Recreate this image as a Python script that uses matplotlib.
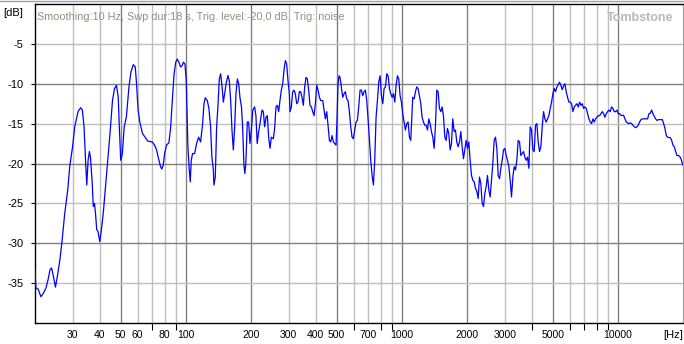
import matplotlib
matplotlib.use('Agg')
import matplotlib.pyplot as plt
from matplotlib.lines import Line2D

plt.rcParams['font.family'] = ['Liberation Sans', 'DejaVu Sans']

freq_bass = [20.1, 20.3, 20.8, 21.4, 22.0, 22.6, 23.1, 23.6, 24.0, 24.4, 25.0, 25.5,
             26.2, 26.8, 27.6, 28.5, 29.1, 30.0, 30.7, 31.8, 32.7, 33.3, 33.9, 34.5,
             34.9, 35.4, 35.9, 36.3, 37.0, 37.4, 37.9, 38.3, 38.8, 39.3, 40.1, 40.7,
             41.6, 42.5, 43.4, 44.7, 45.9, 46.9, 47.9, 48.8, 49.3, 50.1, 51.0, 52.0,
             53.2, 54.7, 55.9, 57.3, 58.5, 59.3, 60.3, 61.4, 63.2]
db_bass = [-33.3, -35.6, -35.75, -36.7, -36.25, -35.6, -34.6, -33.3, -33.1, -34.0, -35.5, -34.2,
           -32.1, -29.8, -26.25, -23.3, -20.4, -17.9, -15.4, -13.5, -13.0, -13.3, -15.4, -20.0,
           -22.7, -19.6, -18.5, -19.2, -22.5, -25.4, -25.0, -26.25, -28.3, -28.5, -29.8, -28.5,
           -26.25, -23.3, -20.4, -16.25, -12.1, -10.6, -10.2, -11.7, -15.0, -19.6, -18.75, -15.4,
           -14.2, -10.4, -8.5, -7.6, -7.9, -10.0, -13.3, -14.8, -16.25]

freq_lowmid = [66.9, 70.1, 71.9, 73.4, 74.7, 76.6, 77.6, 78.8, 80.0, 81.6, 83.7, 85.2,
               86.8, 88.3, 90.0, 91.5, 93.1, 94.8, 96.5, 97.6, 99.3, 100.7, 102.5, 104.0,
               105.1, 106.2, 107.7, 110.1, 112.4, 114.9, 117.3, 119.9, 121.6, 123.3, 126.0, 128.2,
               130.5, 132.3, 134.4, 135.2, 137.2, 139.2, 141.2, 143.2, 145.3, 147.5, 149.5, 151.6,
               153.9, 157.0, 159.2, 161.6, 163.9, 166.3, 168.7, 171.0, 173.6, 176.1, 178.4, 181.3,
               183.6, 186.1, 188.0, 189.9, 193.0, 195.8, 198.5, 201.5, 204.6, 208.6, 211.5, 214.4,
               217.8]
db_lowmid = [-17.2, -17.3, -17.7, -18.3, -19.2, -20.4, -20.7, -20.2, -18.75, -17.7, -17.4, -15.6,
             -12.1, -9.0, -7.3, -6.9, -7.3, -7.9, -7.7, -7.3, -7.5, -9.6, -17.9, -20.8,
             -22.3, -19.6, -18.75, -18.75, -17.5, -16.7, -17.3, -15.0, -12.5, -11.75, -12.1, -13.1,
             -15.4, -19.2, -20.8, -22.7, -21.7, -15.4, -12.7, -9.4, -8.75, -10.4, -12.3, -11.25,
             -10.0, -8.95, -9.6, -12.1, -15.8, -18.3, -15.4, -11.25, -9.4, -10.0, -11.7, -12.9,
             -15.4, -20.2, -21.25, -20.0, -14.8, -14.8, -17.5, -15.8, -13.3, -12.9, -14.0, -17.5,
             -16.0]

freq_mid = [220.8, 225.6, 228.9, 232.1, 235.5, 238.8, 242.3, 245.7, 249.3, 254.6, 258.2, 261.9,
            265.7, 269.5, 273.3, 277.3, 281.3, 285.3, 289.4, 293.5, 297.7, 302.0, 304.1, 308.5,
            312.9, 317.4, 321.9, 326.5, 331.1, 335.9, 340.7, 345.6, 350.5, 355.5, 360.6, 365.8,
            371.0, 376.3, 381.7, 387.3, 392.8, 398.5, 404.2, 410.0, 415.9, 421.7, 430.9, 437.0,
            443.3, 449.6, 456.0, 462.6, 469.2, 475.9, 482.7, 489.6, 496.6, 501.9, 507.2, 512.7,
            518.2, 525.6, 533.2, 540.8, 548.5, 556.4, 564.3, 572.4, 580.6, 588.8, 597.3, 605.8,
            614.5, 623.3, 632.2, 641.3, 650.5, 659.8, 669.3, 678.9, 688.7, 698.5, 708.6, 718.7,
            729.1, 739.5, 749.9, 760.6, 771.6, 782.7, 793.9, 805.3, 816.8, 828.5, 840.4, 852.4,
            864.7, 877.0, 889.6, 902.3, 915.3, 928.3, 941.6, 955.0, 968.5, 982.4, 996.5, 1010.6,
            1025.0, 1039.9, 1054.6, 1069.8, 1085.1, 1100.6]
db_mid = [-15.0, -13.3, -13.5, -15.4, -14.2, -14.0, -16.7, -18.1, -16.7, -16.9, -15.6, -12.9,
          -12.7, -13.5, -12.1, -10.8, -10.0, -8.3, -7.1, -7.5, -9.6, -11.25, -13.5, -12.9,
          -11.0, -10.8, -11.25, -12.5, -12.3, -11.0, -11.0, -11.7, -12.7, -10.4, -9.2, -9.4,
          -10.8, -12.7, -12.9, -13.5, -14.0, -12.5, -10.2, -10.8, -11.7, -12.1, -12.1, -13.3,
          -14.4, -13.5, -15.2, -17.1, -17.3, -16.5, -17.3, -17.5, -17.7, -14.2, -10.0, -9.0,
          -9.2, -10.4, -11.7, -11.25, -11.0, -11.9, -12.1, -13.5, -15.4, -16.7, -16.9, -15.8,
          -14.8, -14.6, -12.9, -10.8, -10.8, -11.5, -11.0, -10.8, -12.1, -14.4, -17.1, -19.6,
          -21.5, -22.7, -19.6, -14.2, -12.1, -9.8, -9.0, -11.5, -12.5, -10.6, -10.4, -8.75,
          -9.0, -10.6, -11.25, -11.7, -11.25, -12.3, -10.2, -9.0, -9.4, -11.5, -12.3, -13.75,
          -14.8, -15.8, -15.0, -14.8, -16.7, -17.1]

freq_high = [1124, 1141, 1157, 1173, 1190, 1207, 1225, 1242, 1260, 1278, 1296, 1315,
             1334, 1353, 1372, 1392, 1412, 1432, 1452, 1473, 1494, 1516, 1537, 1559,
             1582, 1604, 1627, 1650, 1674, 1698, 1722, 1747, 1772, 1797, 1823, 1849,
             1876, 1903, 1930, 1957, 1985, 2014, 2043, 2072, 2102, 2132, 2162, 2193,
             2225, 2256, 2289, 2321, 2355, 2388, 2423, 2457, 2492, 2528, 2564, 2601,
             2638, 2676, 2714, 2753, 2793, 2833, 2873, 2914, 2956, 2998, 3041, 3085,
             3129, 3174, 3219, 3265, 3312, 3359, 3407, 3456, 3506, 3556, 3607, 3658,
             3711, 3764, 3818, 3872, 3928, 3984, 4041, 4099, 4158, 4217, 4277, 4339,
             4401, 4464, 4528, 4593, 4658, 4725, 4793, 4861, 4931, 5002, 5073, 5146,
             5220, 5294, 5370, 5447, 5525, 5604, 5684, 5766, 5848, 5932, 6017, 6103,
             6191, 6279, 6369, 6461, 6553, 6647, 6742, 6839, 6937, 7036, 7137, 7239,
             7343, 7448, 7554, 7663, 7772, 7884, 7997, 8111, 8227,
             8462, 8584, 8707, 8831, 8958, 9086, 9216, 9348, 9481, 9617, 9754, 9894,
             10036, 10179, 10325, 10473, 10622, 10774, 10929, 11085, 11244, 11405, 11568, 11734,
             11902, 12072, 12245, 12420, 12598, 12778, 12961, 13147, 13335, 13526, 13719, 13916,
             14115, 14317, 14522, 14730, 14941, 15155, 15372, 15592, 15815, 16042, 16271, 16504,
             16741, 16980, 17223, 17470, 17720, 17974, 18231, 18492, 18757, 19025, 19298, 19574,
             19854, 20000]
db_high = [-11.7, -11.9, -11.0, -10.4, -10.6, -11.5, -12.5, -14.2, -14.8, -15.2, -15.2, -15.8,
           -14.4, -15.0, -16.0, -16.7, -18.1, -15.2, -10.8, -11.0, -13.1, -13.5, -12.9, -14.0,
           -16.7, -17.1, -15.6, -16.25, -18.3, -17.5, -14.4, -16.0, -15.8, -17.3, -17.9, -17.3,
           -16.0, -17.9, -19.4, -18.3, -17.1, -18.1, -17.3, -19.6, -21.5, -22.1, -22.3, -23.1,
           -23.5, -24.4, -21.7, -22.5, -25.0, -25.4, -23.75, -22.9, -21.5, -23.3, -24.2, -22.1,
           -20.0, -17.1, -16.7, -18.1, -21.5, -21.9, -20.6, -19.6, -18.3, -18.1, -19.0, -19.6,
           -20.4, -22.1, -24.2, -21.7, -20.4, -20.8, -19.6, -17.1, -17.3, -19.0, -18.75, -18.5,
           -19.2, -19.6, -19.2, -20.6, -15.4, -15.8, -18.3, -18.5, -15.2, -15.0, -17.3, -18.5,
           -17.9, -15.4, -13.5, -14.4, -14.8, -14.4, -14.0, -13.1, -12.3, -11.25, -10.6, -11.0,
           -10.4, -10.1, -9.8, -10.2, -10.75, -10.3, -10.0, -11.0, -11.7, -12.3, -12.3, -12.5,
           -13.5, -12.9, -12.7, -12.5, -12.9, -12.3, -12.7, -12.5, -13.1, -12.9, -13.1, -13.75,
           -14.4, -14.8, -15.0, -14.4, -14.8, -14.4, -14.2, -14.0, -14.0,
           -13.5, -13.75, -14.2, -13.75, -13.5, -13.3, -13.5, -12.9, -13.1, -13.5, -13.5, -13.3,
           -13.75, -13.75, -13.96, -13.96, -13.96, -14.4, -14.8, -14.9, -15.0, -14.9, -15.0, -15.2,
           -15.4, -15.5, -15.4, -15.2, -14.8, -14.5, -14.4, -14.4, -14.4, -14.4, -14.4, -13.75,
           -13.7, -13.3, -13.75, -14.1, -14.4, -14.6, -14.5, -14.5, -14.5, -14.5, -15.0, -15.6,
           -16.5, -16.7, -16.75, -16.75, -17.1, -17.7, -17.9, -18.5, -19.0, -19.0, -19.1, -19.4,
           -20.0, -20.2]

# Axes : graduations et grille (1-2-5 en gris foncé, le reste en gris clair)
x_labels_hz = [30, 40, 50, 60, 80, 100, 200, 300, 400, 500, 700, 1000, 2000, 3000, 5000, 10000]
x_unlabeled_hz = [70, 90, 600, 800, 900, 4000, 6000, 7000, 8000, 9000]
grid_major_hz = [50, 100, 200, 500, 1000, 2000, 5000, 10000]
grid_minor_hz = [30, 40, 60, 70, 80, 90, 300, 400, 600, 700, 800, 900,
                 3000, 4000, 6000, 7000, 8000, 9000]
y_ticks_db = [-5, -10, -15, -20, -25, -30, -35]
grid_major_db = [-10, -20, -30]
grid_minor_db = [-5, -15, -25, -35]

TITRE = 'Smoothing:10 Hz, Swp dur:18 s, Trig. level:-20,0 dB, Trig: noise'

freq = freq_bass + freq_lowmid + freq_mid + freq_high
level = db_bass + db_lowmid + db_mid + db_high

W, H = 684, 344
fig = plt.figure(figsize=(W / 100, H / 100), dpi=100)
ax = fig.add_axes([34.5 / W, 21 / H, 648.5 / W, 319 / H])
ax.set_xscale('log')
ax.set_xlim(20, 20000)
ax.set_ylim(-40, 0)

for f in grid_minor_hz:
    ax.axvline(f, color='#c0c0c0', lw=1.0, zorder=1)
for f in grid_major_hz:
    ax.axvline(f, color='#808080', lw=1.0, zorder=1)
for d in grid_minor_db:
    ax.axhline(d, color='#c0c0c0', lw=1.0, zorder=1)
for d in grid_major_db:
    ax.axhline(d, color='#808080', lw=1.0, zorder=1)

ax.plot(freq, level, color='#0000ff', lw=0.9, zorder=3)

ax.set_xticks(x_labels_hz)
ax.set_xticklabels([str(v) for v in x_labels_hz])
ax.set_xticks(x_unlabeled_hz, minor=True)
ax.xaxis.set_minor_formatter(plt.NullFormatter())
ax.tick_params(axis='x', which='major', length=0, pad=5, labelsize=7.5)
ax.tick_params(axis='x', which='minor', length=5, width=0.8, direction='out', color='black')
ax.set_yticks(y_ticks_db)
ax.set_yticklabels([str(v) for v in y_ticks_db])
ax.tick_params(axis='y', length=3, width=0.8, color='black', pad=5, labelsize=8)

for s in ['left', 'bottom', 'top']:
    ax.spines[s].set_color('black')
    ax.spines[s].set_linewidth(1.0)
ax.spines['right'].set_color('#a0a0a0')

ax.text(0.004, 0.975, TITRE, transform=ax.transAxes, ha='left', va='top',
        fontsize=7.8, color='#948e7e')
ax.text(0.985, 0.975, 'Tombstone', transform=ax.transAxes, ha='right', va='top',
        fontsize=9, color='#b8b8b8', fontweight='bold')

fig.text(3 / W, 1 - 12.5 / H, '[dB]', ha='left', va='center', fontsize=8)
fig.text(683 / W, 1 - 335 / H, '[Hz]', ha='right', va='center', fontsize=8)
fig.add_artist(Line2D([0, 1], [1 - 0.5 / H, 1 - 0.5 / H], transform=fig.transFigure,
                      color='#a0a0a0', lw=1.0))

fig.savefig('out.png', dpi=100)
